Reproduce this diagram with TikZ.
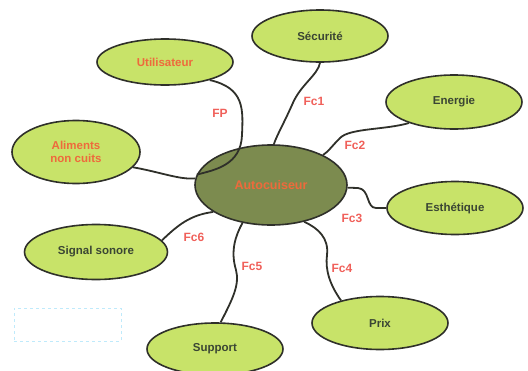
\documentclass[tikz,border=0pt]{standalone}
\usepackage{fontspec}
\setmainfont{Liberation Sans}
\usetikzlibrary{shapes.geometric}

\definecolor{vertclair}{HTML}{C8E369}
\definecolor{vertfonce}{HTML}{7C8B4F}
\definecolor{trait}{HTML}{2F302A}
\definecolor{orange}{HTML}{EE6A3C}
\definecolor{rose}{HTML}{F0605A}
\definecolor{texte}{HTML}{3B4634}

\begin{document}
\begin{tikzpicture}[x=1pt, y=-1pt,
    bulle/.style={ellipse, draw=trait, line width=1.6pt, fill=vertclair,
                  minimum width=136pt, minimum height=52pt, inner sep=0pt,
                  font=\fontsize{11.5}{13}\selectfont\bfseries, text=texte, align=center},
    lien/.style={draw=trait, line width=1.8pt},
    fc/.style={font=\fontsize{12}{14}\selectfont\bfseries, text=rose}]
    \useasboundingbox (0,0) rectangle (528,370);
    \node[draw=cyan!25, dashed, minimum width=107pt, minimum height=33pt] (cadre) at (67.5,324.5) {};

    % les bulles
    \node[bulle, text=orange, minimum height=46pt] (util) at (165,62) {Utilisateur};
    \node[bulle] (secu) at (320,36) {Sécurité};
    \node[bulle, minimum height=54pt] (energ) at (454,102) {Energie};
    \node[bulle, minimum height=53pt] (esth) at (455,208) {Esthétique};
    \node[bulle, minimum height=53pt] (prix) at (380,323) {Prix};
    \node[bulle] (supp) at (215,349) {Support};
    \node[bulle, minimum width=143pt, minimum height=55pt] (signal) at (96,252) {Signal sonore};
    \node[bulle, text=orange, minimum width=128pt, minimum height=63pt] (alim) at (76,152) {Aliments\\non cuits};
    \node[bulle, fill=vertfonce, text=orange, minimum width=152pt, minimum height=80pt,
          font=\fontsize{12.5}{14}\selectfont\bfseries] (auto) at (271,185) {Autocuiseur};

    % les liens
    \draw[lien] (util.-22) .. controls (245,88) and (243,110) .. (242,135)
        .. controls (241,165) and (215,170) .. (auto.172);
    \draw[lien] (secu.south) .. controls (318,75) and (300,85) .. (292,105)
        .. controls (283,125) and (277,135) .. (auto.86);
    \draw[lien] (energ.-155) .. controls (385,130) and (350,128) .. (340,138)
        .. controls (332,146) and (328,152) .. (auto.30);
    \draw[lien] (esth.west) -- (376,208) .. controls (366,208) and (370,189) .. (358,188) -- (auto.-2);
    \draw[lien] (prix.150) .. controls (330,285) and (325,270) .. (327,255)
        .. controls (329,238) and (318,228) .. (auto.-48);
    \draw[lien] (supp.78) .. controls (232,300) and (240,285) .. (236,270)
        .. controls (230,250) and (236,235) .. (auto.-127);
    \draw[lien] (signal.10) .. controls (178,225) and (190,215) .. (auto.-155);
    \draw[lien] (alim.-15) .. controls (160,172) and (180,180) .. (auto.175);

    % les fonctions
    \node[fc] (lFP) at (220,113) {FP};
    \node[fc] (lFc1) at (314,101) {Fc1};
    \node[fc] (lFc2) at (355,145) {Fc2};
    \node[fc] (lFc3) at (352,218) {Fc3};
    \node[fc] (lFc4) at (342,268) {Fc4};
    \node[fc] (lFc5) at (252,266) {Fc5};
    \node[fc] (lFc6) at (194,237) {Fc6};
\end{tikzpicture}
\end{document}
